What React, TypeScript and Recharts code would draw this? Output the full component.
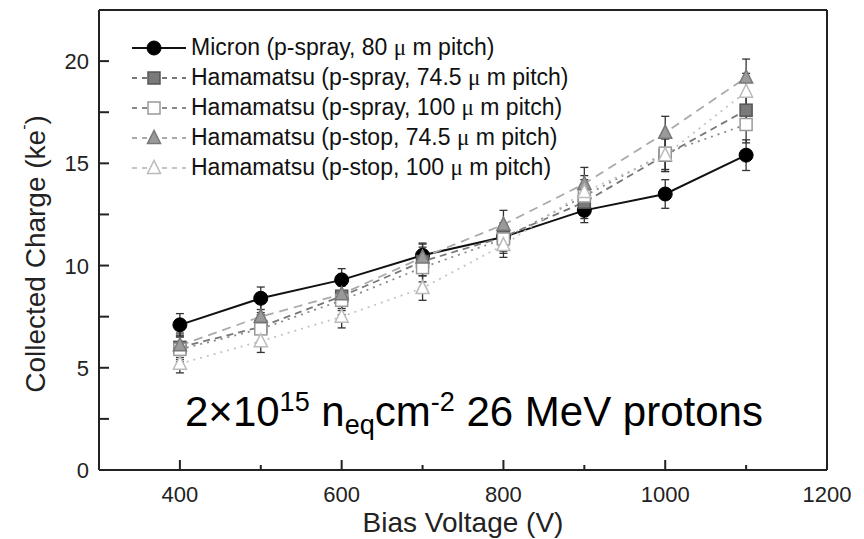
import { LineChart, Line, XAxis, YAxis, ErrorBar, ReferenceLine } from "recharts";

const voltages = [400, 500, 600, 700, 800, 900, 1000, 1100];

const micron = [7.1, 8.4, 9.3, 10.5, 11.4, 12.7, 13.5, 15.4];
const micronErr = [0.55, 0.55, 0.55, 0.55, 0.55, 0.6, 0.7, 0.75];

const spray745 = [6.0, 7.0, 8.5, 10.2, 11.4, 13.1, 15.4, 17.6];
const spray745Err = [0.6, 0.7, 0.7, 0.7, 0.7, 0.8, 0.8, 0.9];

const spray100 = [5.9, 6.9, 8.3, 9.9, 11.3, 13.4, 15.5, 16.9];
const spray100Err = [0.6, 0.7, 0.7, 0.7, 0.7, 0.8, 0.8, 0.9];

const stop745 = [6.1, 7.5, 8.6, 10.4, 12.0, 14.0, 16.5, 19.2];
const stop745Err = [0.6, 0.7, 0.7, 0.7, 0.7, 0.8, 0.8, 0.9];

const stop100 = [5.2, 6.3, 7.5, 8.9, 11.0, 13.6, 15.4, 18.5];
const stop100Err = [0.45, 0.55, 0.55, 0.6, 0.6, 0.8, 0.8, 0.9];

const xTicks = [300, 400, 500, 600, 700, 800, 900, 1000, 1100, 1200];
const xLabels = [400, 600, 800, 1000, 1200];
const yTicks = [0, 2.5, 5, 7.5, 10, 12.5, 15, 17.5, 20];
const yLabels = [0, 5, 10, 15, 20];

const FONT = "'Liberation Sans', Arial, sans-serif";
const SERIF = "'Liberation Serif', 'DejaVu Serif', serif";
const AXIS = "#222";

const rows = voltages.map((v, i) => ({
  v,
  micron: micron[i],
  micronErr: micronErr[i],
  spray745: spray745[i],
  spray745Err: spray745Err[i],
  spray100: spray100[i],
  spray100Err: spray100Err[i],
  stop745: stop745[i],
  stop745Err: stop745Err[i],
  stop100: stop100[i],
  stop100Err: stop100Err[i],
}));

type Shape = "circle" | "square" | "triangle";

interface SeriesDef {
  key: string;
  // legend text is split around the micro sign, which is set in a serif face
  pre: string;
  post: string;
  stroke: string;
  dash?: string;
  shape: Shape;
  fill: string;
  edge: string;
}

const series: SeriesDef[] = [
  { key: "micron", pre: "Micron (p-spray, 80 ", post: " m pitch)", stroke: "#111", shape: "circle", fill: "#000", edge: "#000" },
  { key: "spray745", pre: "Hamamatsu (p-spray, 74.5 ", post: " m pitch)", stroke: "#777", dash: "7 5", shape: "square", fill: "#7a7a7a", edge: "#555" },
  { key: "spray100", pre: "Hamamatsu (p-spray, 100 ", post: " m pitch)", stroke: "#8a8a8a", dash: "2 5", shape: "square", fill: "#fff", edge: "#999" },
  { key: "stop745", pre: "Hamamatsu (p-stop, 74.5 ", post: " m pitch)", stroke: "#aaa", dash: "9 6", shape: "triangle", fill: "#9a9a9a", edge: "#777" },
  { key: "stop100", pre: "Hamamatsu (p-stop, 100 ", post: " m pitch)", stroke: "#c4c4c4", dash: "2 5", shape: "triangle", fill: "#fff", edge: "#bbb" },
];

function Marker({ cx, cy, s }: { cx: number; cy: number; s: SeriesDef }) {
  if (s.shape === "circle") {
    return <circle cx={cx} cy={cy} r={7} fill={s.fill} stroke={s.edge} />;
  }
  if (s.shape === "square") {
    return <rect x={cx - 6} y={cy - 6} width={12} height={12} fill={s.fill} stroke={s.edge} strokeWidth={1.5} />;
  }
  const h = 6.5;
  return (
    <polygon
      points={`${cx},${cy - h - 1} ${cx - h},${cy + h - 1} ${cx + h},${cy + h - 1}`}
      fill={s.fill}
      stroke={s.edge}
      strokeWidth={1.5}
    />
  );
}

function XTick(props: any) {
  const { x, y, payload } = props;
  const major = xLabels.includes(payload.value);
  return (
    <g>
      <line x1={x} x2={x} y1={y} y2={y - (major ? 10 : 5)} stroke={AXIS} strokeWidth={2} />
      {major && (
        <text x={x} y={y + 32} textAnchor="middle" fontSize={22} fontFamily={FONT} fill="#222">
          {payload.value}
        </text>
      )}
    </g>
  );
}

function YTick(props: any) {
  const { x, y, payload } = props;
  const major = yLabels.includes(payload.value);
  return (
    <g>
      <line x1={x} x2={x + 10} y1={y} y2={y} stroke={AXIS} strokeWidth={2} />
      {major && (
        <text x={x - 10} y={y + 8} textAnchor="end" fontSize={22} fontFamily={FONT} fill="#222">
          {payload.value}
        </text>
      )}
    </g>
  );
}

function RightTick(props: any) {
  const { x, y, payload } = props;
  const major = yLabels.includes(payload.value);
  return <line x1={x} x2={x - (major ? 10 : 6)} y1={y} y2={y} stroke={AXIS} strokeWidth={2} />;
}

function YTitle(props: any) {
  const vb = props.viewBox;
  const cx = vb.x - 4;
  const cy = vb.y + vb.height / 2 + 14;
  return (
    <text
      transform={`translate(${cx},${cy}) rotate(-90)`}
      textAnchor="middle"
      dominantBaseline="central"
      fontSize={28}
      fontFamily={FONT}
      fill="#222"
    >
      Collected Charge (ke
      <tspan fontSize={16} dy={-12}>-</tspan>
      <tspan dy={12}>)</tspan>
    </text>
  );
}

function XTitle(props: any) {
  const vb = props.viewBox;
  return (
    <text
      x={vb.x + vb.width / 2}
      y={vb.y + 62}
      textAnchor="middle"
      fontSize={28}
      fontFamily={FONT}
      fill="#222"
    >
      Bias Voltage (V)
    </text>
  );
}

function LegendBox() {
  return (
    <div style={{ position: "absolute", left: 130, top: 33, fontFamily: FONT, fontSize: 23, color: "#111" }}>
      {series.map((s) => (
        <div key={s.key} style={{ display: "flex", alignItems: "center", height: 29.9 }}>
          <svg width={61} height={28} style={{ display: "block" }}>
            <line x1={2} x2={56} y1={14} y2={14} stroke={s.stroke} strokeWidth={1.8} strokeDasharray={s.dash ? "5 5" : undefined} />
            <Marker cx={24} cy={14} s={s} />
          </svg>
          <span style={{ whiteSpace: "nowrap", lineHeight: 1 }}>
            {s.pre}
            <span style={{ fontFamily: SERIF }}>μ</span>
            {s.post}
          </span>
        </div>
      ))}
    </div>
  );
}

function Fluence() {
  const sup = { fontSize: 27, position: "relative" as const, top: -15 };
  const sub = { fontSize: 27, position: "relative" as const, top: 8 };
  return (
    <div
      style={{
        position: "absolute",
        left: 185,
        top: 391,
        fontFamily: FONT,
        fontSize: 42,
        lineHeight: "42px",
        color: "#000",
        whiteSpace: "nowrap",
      }}
    >
      2×10<span style={sup}>15</span> n<span style={sub}>eq</span>cm<span style={sup}>-2</span> 26 MeV protons
    </div>
  );
}

export default function App() {
  return (
    <div style={{ position: "absolute", left: 0, top: 0, width: 864, height: 539, background: "#fff" }}>
      <LineChart width={864} height={539} data={rows} margin={{ top: 10, right: 36, bottom: 24, left: 39 }}>
        <XAxis
          dataKey="v"
          type="number"
          domain={[300, 1200]}
          ticks={xTicks}
          interval={0}
          tickSize={0}
          tickMargin={0}
          tick={<XTick />}
          height={45}
          axisLine={{ stroke: AXIS, strokeWidth: 2 }}
          label={<XTitle />}
        />
        <YAxis
          yAxisId="left"
          type="number"
          domain={[0, 22.5]}
          ticks={yTicks}
          interval={0}
          tickSize={0}
          tickMargin={0}
          tick={<YTick />}
          width={60}
          axisLine={{ stroke: AXIS, strokeWidth: 2 }}
          label={<YTitle />}
        />
        <YAxis
          yAxisId="right"
          orientation="right"
          type="number"
          domain={[0, 22.5]}
          ticks={yTicks}
          interval={0}
          tickSize={0}
          tickMargin={0}
          tick={<RightTick />}
          width={1}
          axisLine={{ stroke: AXIS, strokeWidth: 2 }}
        />
        <ReferenceLine yAxisId="left" y={22.5} stroke={AXIS} strokeWidth={2} />
        {series.map((s) => (
          <Line
            key={s.key}
            yAxisId="left"
            dataKey={s.key}
            stroke={s.stroke}
            strokeWidth={s.key === "micron" ? 2 : 1.8}
            strokeDasharray={s.dash}
            isAnimationActive={false}
            dot={(p: any) => <Marker key={`${s.key}-${p.index}`} cx={p.cx} cy={p.cy} s={s} />}
          >
            <ErrorBar dataKey={`${s.key}Err`} width={4} stroke="#333" strokeWidth={1.3} direction="y" />
          </Line>
        ))}
      </LineChart>
      <LegendBox />
      <Fluence />
    </div>
  );
}
